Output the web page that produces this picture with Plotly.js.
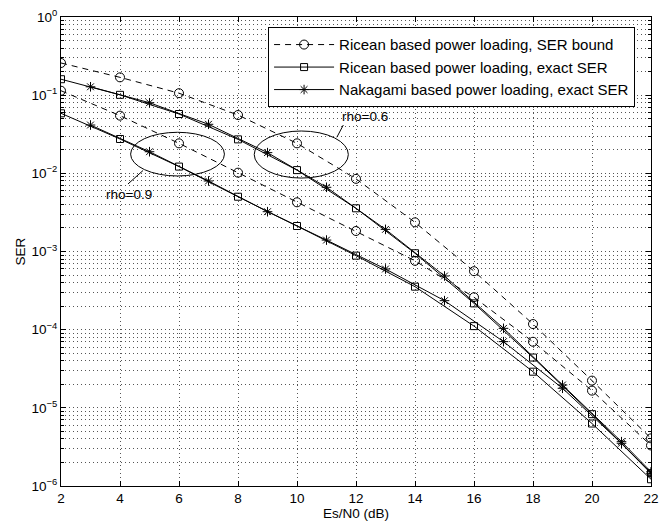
<!DOCTYPE html>
<html>
<head>
<meta charset="utf-8">
<script src="https://cdn.plot.ly/plotly-3.0.1.min.js"></script>
<style>html,body{margin:0;padding:0;background:#fff;}#chart{width:671px;height:523px;}</style>
</head>
<body>
<div id="chart"></div>
<script>
// Es/N0 (dB) sample points
const snrEven = [2, 4, 6, 8, 10, 12, 14, 16, 18, 20, 22];
const snrOdd = [3, 5, 7, 9, 11, 13, 15, 17, 19, 21, 22];

// Ricean based power loading, SER bound
const boundRho06 = [0.258, 0.169, 0.106, 0.0557, 0.0242, 0.0085, 0.00236, 5.6e-4, 1.18e-4, 2.23e-5, 4.07e-6];
const boundRho09 = [0.114, 0.0547, 0.0242, 0.0102, 0.00426, 0.00183, 7.6e-4, 2.6e-4, 7.0e-5, 1.66e-5, 3.3e-6];
// Ricean based power loading, exact SER
const riceRho06 = [0.16, 0.101, 0.0574, 0.0272, 0.011, 0.00357, 9.5e-4, 2.17e-4, 4.4e-5, 8.3e-6, 1.46e-6];
const riceRho09 = [0.0586, 0.0275, 0.0122, 0.00502, 0.00212, 8.85e-4, 3.55e-4, 1.11e-4, 2.9e-5, 6.3e-6, 1.22e-6];
// Nakagami based power loading, exact SER
const nakaRho06 = [0.128, 0.080, 0.0424, 0.0184, 0.00663, 0.00192, 4.86e-4, 1.04e-4, 1.96e-5, 3.69e-6, 1.52e-6];
const nakaRho09 = [0.0415, 0.0189, 0.00798, 0.00323, 0.0014, 5.97e-4, 2.35e-4, 7.03e-5, 1.78e-5, 3.52e-6, 1.45e-6];

const legendNames = [
  'Ricean based power loading, SER bound',
  'Ricean based power loading, exact SER',
  'Nakagami based power loading, exact SER'
];
const yTickVals = [1e-6, 1e-5, 1e-4, 1e-3, 1e-2, 1e-1, 1];
const yTickText = ['10<sup>\u22126</sup>', '10<sup>\u22125</sup>', '10<sup>\u22124</sup>', '10<sup>\u22123</sup>', '10<sup>\u22122</sup>', '10<sup>\u22121</sup>', '10<sup>0</sup>'];
const xTickVals = [2, 4, 6, 8, 10, 12, 14, 16, 18, 20, 22];

const FONT = 'Liberation Sans, Arial, Helvetica, sans-serif';

function tr(x, y, name, group, show, dash, symbol, size) {
  return {
    x: x, y: y, name: name, legendgroup: group, showlegend: show,
    type: 'scatter', mode: 'lines+markers',
    line: {color: '#000', width: 1, dash: dash},
    marker: {symbol: symbol, size: size, color: '#000', line: {color: '#000', width: 1}}
  };
}

const dashed = '6px,5px';
const traces = [
  tr(snrEven, boundRho06, legendNames[0], 'b', true, dashed, 'circle-open', 9),
  tr(snrEven, riceRho06, legendNames[1], 'r', true, 'solid', 'square-open', 7),
  tr(snrOdd, nakaRho06, legendNames[2], 'n', true, 'solid', 'asterisk-open', 8),
  tr(snrEven, boundRho09, legendNames[0], 'b', false, dashed, 'circle-open', 9),
  tr(snrEven, riceRho09, legendNames[1], 'r', false, 'solid', 'square-open', 7),
  tr(snrOdd, nakaRho09, legendNames[2], 'n', false, 'solid', 'asterisk-open', 8)
];

const gridDots = '1px,3px';
const gridCol = '#555';
const layout = {
  width: 671, height: 523,
  margin: {l: 61, r: 20, t: 17, b: 37, pad: 0},
  paper_bgcolor: '#fff', plot_bgcolor: '#fff',
  font: {family: FONT, size: 13, color: '#000'},
  showlegend: true,
  legend: {
    x: 0.973, xanchor: 'right', y: 0.978, yanchor: 'top',
    bgcolor: '#fff', bordercolor: '#000', borderwidth: 1,
    font: {family: FONT, size: 15, color: '#000'},
    itemwidth: 60, tracegroupgap: 0
  },
  xaxis: {
    type: 'linear', range: [2, 22],
    tickmode: 'array', tickvals: xTickVals,
    ticks: 'inside', ticklen: 5, tickcolor: '#000',
    showline: true, linecolor: '#000', linewidth: 1, mirror: 'ticks',
    showgrid: true, gridcolor: gridCol, griddash: gridDots, gridwidth: 1,
    zeroline: false,
    tickfont: {family: FONT, size: 13.5, color: '#000'},
    title: {text: 'Es/N0 (dB)', font: {family: FONT, size: 13.5, color: '#000'}, standoff: 3}
  },
  yaxis: {
    type: 'log', range: [-6, 0],
    tickmode: 'array', tickvals: yTickVals, ticktext: yTickText,
    ticks: 'inside', ticklen: 5, tickcolor: '#000',
    showline: true, linecolor: '#000', linewidth: 1, mirror: 'ticks',
    showgrid: true, gridcolor: gridCol, griddash: gridDots, gridwidth: 1,
    zeroline: false,
    tickfont: {family: FONT, size: 13.5, color: '#000'},
    minor: {dtick: 'D1', ticks: 'inside', ticklen: 3, tickcolor: '#000', showgrid: true, gridcolor: gridCol, griddash: gridDots, gridwidth: 1},
    title: {text: 'SER', font: {family: FONT, size: 13.5, color: '#000'}, standoff: 2}
  },
  shapes: [
    {type: 'circle', xref: 'x', yref: 'y', x0: 4.36, x1: 7.54, y0: 0.00925, y1: 0.0335, line: {color: '#000', width: 1}},
    {type: 'circle', xref: 'x', yref: 'y', x0: 8.55, x1: 11.74, y0: 0.0087, y1: 0.0348, line: {color: '#000', width: 1}},
    {type: 'line', xref: 'x', yref: 'y', x0: 4.78, x1: 4.27, y0: 0.01086, y1: 0.00731, line: {color: '#000', width: 1}},
    {type: 'line', xref: 'x', yref: 'y', x0: 11.35, x1: 11.57, y0: 0.0289, y1: 0.0415, line: {color: '#000', width: 1}}
  ],
  annotations: [
    {x: 4.31, y: -2.277, xref: 'x', yref: 'y', text: 'rho=0.9', showarrow: false, font: {family: FONT, size: 13.5, color: '#000'}},
    {x: 12.3, y: -1.279, xref: 'x', yref: 'y', text: 'rho=0.6', showarrow: false, font: {family: FONT, size: 13.5, color: '#000'}}
  ]
};

Plotly.newPlot('chart', traces, layout, {displayModeBar: false, staticPlot: true});
</script>
</body>
</html>
